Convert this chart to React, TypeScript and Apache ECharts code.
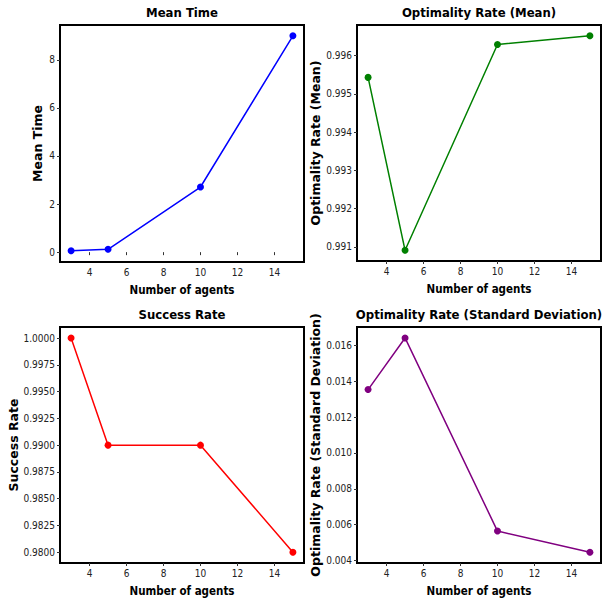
import React, { useEffect, useRef } from "react";
import * as echarts from "echarts";

const agents = [3, 5, 10, 15];
const meanTime = [0.06, 0.12, 2.71, 9.0];
const optMean = [0.99543, 0.99091, 0.99629, 0.99652];
const successRate = [1.0, 0.99, 0.99, 0.98];
const optStd = [0.01353, 0.01641, 0.00564, 0.00446];

const xTicks = [4, 6, 8, 10, 12, 14];
const meanTimeTicks = [0, 2, 4, 6, 8];
const optMeanTicks = [0.991, 0.992, 0.993, 0.994, 0.995, 0.996];
const successTicks = [0.98, 0.9825, 0.985, 0.9875, 0.99, 0.9925, 0.995, 0.9975, 1.0];
const optStdTicks = [0.004, 0.006, 0.008, 0.01, 0.012, 0.014, 0.016];

const titles = ["Mean Time", "Optimality Rate (Mean)", "Success Rate", "Optimality Rate (Standard Deviation)"];
const yNames = ["Mean Time", "Optimality Rate (Mean)", "Success Rate", "Optimality Rate (Standard Deviation)"];
const colors = ["#0000ff", "#008000", "#ff0000", "#800080"];

export default function App() {
  const ref = useRef<HTMLDivElement>(null);
  useEffect(() => {
    document.body.style.margin = "0";
    const chart = echarts.init(ref.current!, null, { renderer: "svg" });
    const grids = [
      { left: 60, top: 25, width: 244, height: 237 },
      { left: 357, top: 25, width: 244, height: 236 },
      { left: 60, top: 327, width: 244, height: 236 },
      { left: 357, top: 327, width: 244, height: 236 },
    ];
    const yCfg = [
      { min: -0.41, max: 9.45, ticks: meanTimeTicks, dec: 0, gap: 16 },
      { min: 0.99063, max: 0.9968, ticks: optMeanTicks, dec: 3, gap: 34 },
      { min: 0.979, max: 1.00103, ticks: successTicks, dec: 4, gap: 40 },
      { min: 0.00386, max: 0.01702, ticks: optStdTicks, dec: 3, gap: 34 },
    ];
    const data = [meanTime, optMean, successRate, optStd];
    const tickFont = { fontFamily: "DejaVu Sans Condensed", fontSize: 10, color: "#222" };
    chart.setOption({
      animation: false,
      title: grids.map((g, i) => ({
        text: titles[i],
        left: g.left + g.width / 2,
        top: i < 2 ? 6 : 308,
        textAlign: "center",
        padding: 0,
        textStyle: { fontFamily: "DejaVu Sans Condensed", fontWeight: "bold", fontSize: 13, color: "#000" },
      })),
      grid: grids.map((g) => ({ ...g, show: true, borderColor: "#000", borderWidth: 2, backgroundColor: "transparent" })),
      xAxis: grids.map((g, i) => ({
        type: "value",
        gridIndex: i,
        min: 2.4,
        max: 15.6,
        name: "Number of agents",
        nameLocation: "middle",
        nameGap: 22,
        nameTextStyle: { fontFamily: "DejaVu Sans Condensed", fontWeight: "bold", fontSize: 11.5, color: "#000" },
        axisLine: { show: false },
        splitLine: { show: false },
        axisTick: { show: true, length: 3, customValues: xTicks, lineStyle: { color: "#333" } },
        axisLabel: { ...tickFont, margin: 5, customValues: xTicks, formatter: (v: number) => String(v) },
      })),
      yAxis: yCfg.map((c, i) => ({
        type: "value",
        gridIndex: i,
        min: c.min,
        max: c.max,
        name: yNames[i],
        nameLocation: "middle",
        nameRotate: 90,
        nameGap: c.gap,
        nameTextStyle: { fontFamily: "DejaVu Sans", fontWeight: "bold", fontSize: 12.5, color: "#000" },
        axisLine: { show: false },
        splitLine: { show: false },
        axisTick: { show: true, length: 3, customValues: c.ticks, lineStyle: { color: "#333" } },
        axisLabel: { ...tickFont, margin: 5, customValues: c.ticks, formatter: (v: number) => v.toFixed(c.dec) },
      })),
      series: data.map((d, i) => ({
        type: "line",
        xAxisIndex: i,
        yAxisIndex: i,
        data: agents.map((a, j) => [a, d[j]]),
        symbol: "circle",
        symbolSize: 7,
        lineStyle: { color: colors[i], width: 1.5 },
        itemStyle: { color: colors[i] },
      })),
    });
    return () => chart.dispose();
  }, []);
  return <div ref={ref} style={{ width: 602, height: 601 }} />;
}
